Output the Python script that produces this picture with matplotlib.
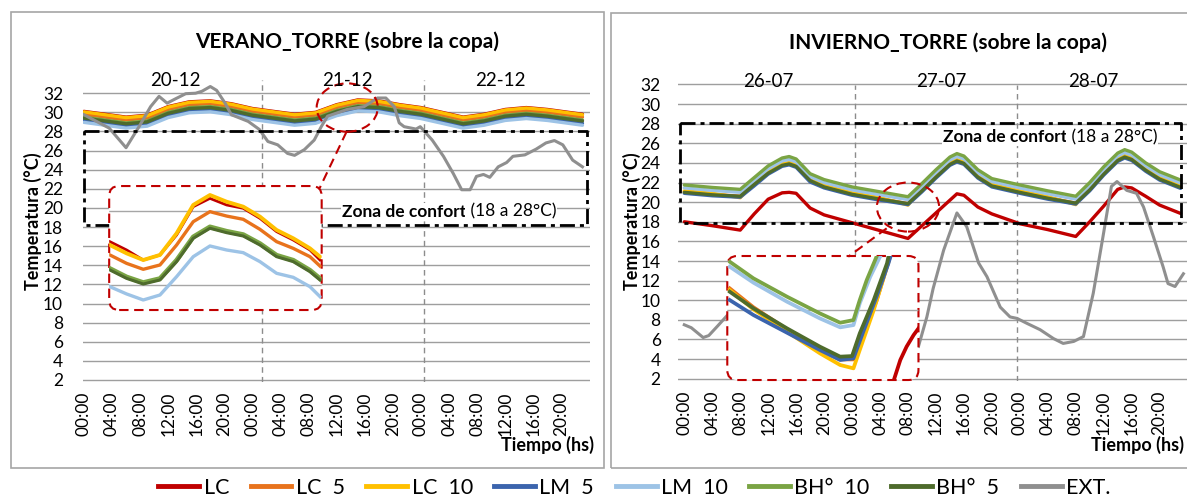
import matplotlib.pyplot as plt
import numpy as np
from matplotlib.patches import FancyBboxPatch, Ellipse, Rectangle
from matplotlib.lines import Line2D

plt.rcParams['font.family'] = ['Lato', 'DejaVu Sans']

NAN = float('nan')

# legend order: LC, LC 5, LC 10, LM 5, LM 10, BH 10, BH 5, EXT
names = ['LC', 'LC  5', 'LC  10', 'LM  5', 'LM  10', 'BH°  10', 'BH°  5', 'EXT.']
colors = ['#C00000', '#E8731C', '#FFC000', '#3B64AD', '#9DC3E6', '#7AA444', '#4E6B2C', '#8F8F8F']

tick_hours = list(range(0, 72, 4))
tick_labels = ['00:00', '04:00', '08:00', '12:00', '16:00', '20:00'] * 3
y_ticks = list(range(2, 33, 2))

# ---------------- VERANO (summer) ----------------
ver_days = ['20-12', '21-12', '22-12']
ver_h = [0, 3, 6, 9, 12, 15, 18, 21, 24, 27, 30, 33, 36, 39, 42, 45, 48, 51, 54, 57, 60, 63, 66, 69, 71]
ver_lc = [30.1, 29.8, 29.5, 29.7, 30.6, 31.1, 31.2, 30.9, 30.4, 30.1, 29.8, 30.0, 30.8, 31.3, 31.2, 30.8,
          30.5, 30.0, 29.5, 29.8, 30.3, 30.5, 30.3, 30.0, 29.8]
ver_lc5 = [29.8, 29.5, 29.2, 29.4, 30.3, 30.8, 30.9, 30.6, 30.1, 29.8, 29.5, 29.7, 30.5, 31.0, 30.9, 30.5,
           30.2, 29.7, 29.2, 29.5, 30.0, 30.2, 30.0, 29.7, 29.5]
ver_lc10 = [30.05, 29.75, 29.45, 29.65, 30.55, 31.05, 31.15, 30.85, 30.35, 30.05, 29.75, 29.95, 30.75, 31.25,
            31.15, 30.75, 30.45, 29.95, 29.45, 29.75, 30.25, 30.45, 30.25, 29.95, 29.75]
ver_lm5 = [29.15, 28.85, 28.55, 28.75, 29.65, 30.15, 30.25, 29.95, 29.45, 29.15, 28.85, 29.05, 29.85, 30.35,
           30.25, 29.85, 29.55, 29.05, 28.55, 28.85, 29.35, 29.55, 29.35, 29.05, 28.85]
ver_lm10 = [28.95, 28.65, 28.35, 28.55, 29.45, 29.95, 30.05, 29.75, 29.25, 28.95, 28.65, 28.85, 29.65, 30.15,
            30.05, 29.65, 29.35, 28.85, 28.35, 28.65, 29.15, 29.35, 29.15, 28.85, 28.65]
ver_bh10 = [29.5, 29.2, 28.9, 29.1, 30.0, 30.5, 30.6, 30.3, 29.8, 29.5, 29.2, 29.4, 30.2, 30.7,
            30.6, 30.2, 29.9, 29.4, 28.9, 29.2, 29.7, 29.9, 29.7, 29.4, 29.2]
ver_bh5 = [29.4, 29.1, 28.8, 29.0, 29.9, 30.4, 30.5, 30.2, 29.7, 29.4, 29.1, 29.3, 30.1, 30.6,
           30.5, 30.1, 29.8, 29.3, 28.8, 29.1, 29.6, 29.8, 29.6, 29.3, 29.1]
ver_ext_h = [0, 3.6, 6.0, 7.85, 9.5, 10.7, 11.85, 13, 14.5, 15.9, 16.8, 18, 18.9, 20.1, 21, 23.4, 25, 26.2,
             27.6, 29, 30, 31.4, 32.8, 33.8, 34.7, 37.5, 39.9, 41.8, 43, 44.2, 44.9, 45.6, 47.3, 47.9, 49.6,
             51.2, 52.6, 53.8, 55, 55.9, 56.9, 57.8, 59, 60.2, 61.1, 62.8, 64.4, 65.8, 67, 68.2, 69.6, 71]
ver_ext = [29.75, 28.35, 26.3, 28.5, 30.6, 31.67, 30.96, 31.4, 31.95, 32.0, 32.2, 32.7, 32.3, 30.97, 29.75,
           29.05, 28.2, 26.95, 26.6, 25.7, 25.5, 26.1, 27.1, 28.5, 29.6, 30.3, 30.6, 31.5, 31.5, 30.6, 28.9,
           28.5, 28.25, 28.5, 27.1, 25.4, 23.6, 21.9, 21.9, 23.3, 23.5, 23.2, 24.3, 24.75, 25.4, 25.55, 26.15,
           26.8, 27.05, 26.6, 25.0, 24.3]

# magnified detail box (values as they appear on the panel)
ver_zoom_h = [3.7, 6.08, 8.45, 10.83, 13.2, 15.57, 17.95, 20.32, 22.69, 25.07, 27.44, 29.81, 32.19, 33.62]
ver_zoom_lc = [16.47, 15.6, 14.55, 15.08, 17.17, 20.13, 21.0, 20.31, 19.96, 18.91, 17.52, 16.64, 15.6, 14.55]
ver_zoom_lc5 = [15.08, 14.2, 13.58, 14.03, 16.12, 18.56, 19.61, 19.15, 18.81, 17.76, 16.47, 15.77, 14.9, 13.92]
ver_zoom_lc10 = [16.12, 15.25, 14.55, 15.08, 17.34, 20.31, 21.35, 20.65, 20.13, 19.09, 17.69, 16.82, 15.77, 14.9]
ver_zoom_lm10 = [11.76, 11.0, 10.37, 10.89, 12.81, 14.9, 16.02, 15.6, 15.32, 14.38, 13.16, 12.74, 11.76, 10.72]
ver_zoom_bh10 = [13.66, 12.78, 12.19, 12.61, 14.53, 16.97, 18.02, 17.56, 17.21, 16.27, 15.05, 14.53, 13.48, 12.61]
ver_zoom_bh5 = [13.51, 12.63, 12.04, 12.46, 14.38, 16.82, 17.87, 17.41, 17.06, 16.12, 14.9, 14.38, 13.33, 12.46]

# ---------------- INVIERNO (winter) ----------------
inv_days = ['26-07', '27-07', '28-07']
inv_h = [0, 4, 8, 10, 12, 14, 15, 16, 18, 20, 24, 28, 32, 34, 36, 38, 39, 40, 42, 44, 48, 52, 56, 58, 60,
         62, 63, 64, 66, 68, 71]
inv_lc = [18.0, 17.6, 17.15, 18.8, 20.3, 20.95, 21.0, 20.9, 19.4, 18.7, 17.9, 17.1, 16.3, 17.6, 18.9, 20.2,
          20.85, 20.7, 19.5, 18.8, 17.8, 17.2, 16.5, 18.0, 19.6, 21.3, 21.55, 21.45, 20.6, 19.7, 18.85]
inv_lc5 = [21.05, 20.8, 20.6, 21.8, 23.0, 23.8, 23.95, 23.7, 22.2, 21.6, 20.85, 20.35, 19.85, 21.2, 22.6, 23.9,
           24.25, 24.0, 22.6, 21.7, 21.05, 20.45, 19.9, 21.3, 22.9, 24.3, 24.65, 24.4, 23.3, 22.4, 21.55]
inv_lc10 = [21.15, 20.9, 20.45, 21.9, 23.1, 23.9, 24.05, 23.8, 22.3, 21.7, 20.95, 20.45, 19.7, 21.3, 22.7, 24.0,
            24.35, 24.1, 22.7, 21.8, 21.15, 20.55, 19.75, 21.4, 23.0, 24.4, 24.75, 24.5, 23.4, 22.5, 21.65]
inv_lm5 = [20.9, 20.65, 20.5, 21.65, 22.85, 23.65, 23.8, 23.55, 22.05, 21.45, 20.7, 20.2, 19.75, 21.05, 22.45,
           23.75, 24.1, 23.85, 22.45, 21.55, 20.9, 20.3, 19.8, 21.15, 22.75, 24.15, 24.5, 24.25, 23.15, 22.25, 21.4]
inv_lm10 = [21.45, 21.2, 21.0, 22.2, 23.4, 24.2, 24.35, 24.1, 22.6, 22.0, 21.25, 20.75, 20.25, 21.6, 23.0, 24.3,
            24.65, 24.4, 23.0, 22.1, 21.45, 20.85, 20.3, 21.7, 23.3, 24.7, 25.05, 24.8, 23.7, 22.8, 21.95]
inv_bh10 = [21.75, 21.5, 21.3, 22.5, 23.7, 24.5, 24.65, 24.4, 22.9, 22.3, 21.55, 21.05, 20.55, 21.9, 23.3, 24.6,
            24.95, 24.7, 23.3, 22.4, 21.75, 21.15, 20.6, 22.0, 23.6, 25.0, 25.35, 25.1, 24.0, 23.1, 22.25]
inv_bh5 = [21.0, 20.75, 20.6, 21.8, 22.95, 23.75, 23.9, 23.65, 22.2, 21.55, 20.8, 20.3, 19.85, 21.15, 22.55,
           23.85, 24.2, 23.95, 22.55, 21.65, 21.0, 20.4, 19.9, 21.25, 22.85, 24.25, 24.6, 24.35, 23.25, 22.35, 21.5]
inv_ext_h = [0, 1, 2.7, 3.5, 4.8, 6.2, 20, 33.5, 34.7, 35.6, 37.1, 39.0, 40.4, 42.1, 43.3, 45.2, 46.6, 47.6,
             49.0, 50.9, 52.8, 54.2, 55.7, 57.1, 58.5, 59.9, 61.1, 61.9, 63.3, 64.7, 65.7, 67.1, 68.5, 69.2,
             70.2, 71.4]
inv_ext = [7.5, 7.2, 6.2, 6.4, 7.4, 8.5, NAN, 5.3, 8.3, 11.2, 15.1, 18.9, 17.5, 13.8, 12.4, 9.3, 8.3, 8.15,
           7.65, 7.0, 6.1, 5.6, 5.8, 6.3, 10.7, 16.5, 21.6, 22.1, 21.2, 20.9, 19.5, 16.5, 13.4, 11.7, 11.4, 12.7]

inv_zoom_lc_h = [29.9, 30.9, 31.8, 32.8, 33.5]
inv_zoom_lc = [1.7, 3.91, 5.27, 6.45, 7.13]
inv_zoom_lc5_h = [6.5, 9.9, 14.7, 19.4, 22.3, 24.2, 25.6, 27.5, 29.2, 29.7]
inv_zoom_lc5 = [11.21, 9.28, 7.03, 4.99, 3.97, 3.97, 6.62, 9.96, 13.93, 15.1]
inv_zoom_lc10_h = [6.5, 9.9, 14.7, 19.4, 22.3, 24.2, 25.1, 27.1, 29.0, 29.7]
inv_zoom_lc10 = [11.04, 9.07, 6.79, 4.59, 3.4, 3.06, 4.93, 9.0, 13.42, 15.1]
inv_zoom_lm5_h = [6.5, 9.9, 14.7, 19.4, 22.3, 24.2, 25.6, 27.5, 29.2, 29.7]
inv_zoom_lm5 = [10.02, 8.49, 6.69, 4.93, 3.91, 4.08, 6.79, 10.36, 13.76, 14.95]
inv_zoom_lm10_h = [6.5, 9.9, 14.7, 19.4, 22.3, 24.2, 25.1, 26.6, 28.0, 28.5]
inv_zoom_lm10 = [13.42, 11.79, 9.85, 8.15, 7.24, 7.47, 9.68, 12.4, 14.44, 15.1]
inv_zoom_bh10_h = [6.5, 9.9, 14.7, 19.4, 22.3, 24.2, 25.1, 26.1, 27.5, 27.9]
inv_zoom_bh10 = [13.93, 12.23, 10.36, 8.66, 7.71, 7.98, 10.02, 12.06, 14.44, 15.2]
inv_zoom_bh5_h = [6.5, 9.9, 14.7, 19.4, 22.3, 24.0, 25.1, 27.1, 29.0, 29.4]
inv_zoom_bh5 = [10.87, 9.17, 7.13, 5.27, 4.25, 4.31, 6.62, 10.02, 13.76, 15.1]

W, H = 1187, 499
RED = '#C00000'


def fx(px):
    return px / W


def fy(py):
    return 1 - py / H


fig = plt.figure(figsize=(W / 100, H / 100), dpi=100)

# outer frames of both charts
fig.add_artist(Rectangle((fx(10.5), fy(468)), (603.5 - 10.5) / W, (468 - 12) / H, transform=fig.transFigure,
                         fill=False, ec='#A6A6A6', lw=1.2))
fig.add_artist(Rectangle((fx(610.5), fy(468)), (1200 - 610.5) / W, (468 - 12.5) / H, transform=fig.transFigure,
                         fill=False, ec='#A6A6A6', lw=1.2))

ax1 = fig.add_axes([fx(82.5), fy(381.9), 507 / W, 307.8 / H])
ax2 = fig.add_axes([fx(678), fy(380.7), 508.9 / W, 315.9 / H])


def base_style(ax, xlim, ypad):
    ax.set_xlim(*xlim)
    ax.set_ylim(1.8, 34)
    ax.set_yticks(y_ticks)
    ax.set_xticks(tick_hours)
    ax.set_xticklabels(tick_labels, rotation=90, fontsize=12.5)
    ax.tick_params(axis='y', length=0, pad=ypad, labelsize=12.5)
    ax.tick_params(axis='x', length=0, pad=7)
    for s in ax.spines.values():
        s.set_visible(False)
    ax.grid(axis='y', color='#9E9E9E', lw=1.0)
    ax.set_axisbelow(True)
    ax.patch.set_alpha(0)


base_style(ax1, (-0.2, 72.0), 14)
base_style(ax2, (-0.9, 71.9), 12.5)

ver_series = [ver_lc, ver_lc5, ver_lc10, ver_lm5, ver_lm10, ver_bh10, ver_bh5]
inv_series = [inv_lc, inv_lc5, inv_lc10, inv_lm5, inv_lm10, inv_bh10, inv_bh5]
for vals, c in zip(ver_series, colors):
    ax1.plot(ver_h, vals, color=c, lw=2.4, zorder=2, solid_capstyle='round')
ax1.plot(ver_ext_h, ver_ext, color=colors[7], lw=2.2, zorder=2)
for vals, c in zip(inv_series, colors):
    ax2.plot(inv_h, vals, color=c, lw=2.4, zorder=2, solid_capstyle='round')
ax2.plot(inv_ext_h, inv_ext, color=colors[7], lw=2.2, zorder=2)

# day dividers and day labels
dash_dot = (0, (5.4, 1.8, 1.45, 1.8))
for x in (25.4, 48.5):
    ax1.plot([x, x], [1.8, 33.4], color='#8C8C8C', lw=1.0, ls=(0, (4, 3)), zorder=1.5)
for x in (24.4, 47.6):
    ax2.plot([x, x], [1.8, 31.9], color='#8C8C8C', lw=1.0, ls=(0, (4, 3)), zorder=1.5)
for x, d in zip((12.96, 37.5, 59.3), ver_days):
    ax1.text(x, 33.3, d, ha='center', va='center', fontsize=13.5, zorder=6)
for x, d in zip((12.0, 36.7, 58.5), inv_days):
    ax2.text(x, 32.3, d, ha='center', va='center', fontsize=13.5, zorder=6)

# comfort zone boxes
ax1.plot([0.0, 71.7, 71.7, 0.0, 0.0], [28.05, 28.05, 18.2, 18.2, 28.05], color='black', lw=2.0,
         ls=dash_dot, zorder=2.5)
ax2.plot([-0.6, 71.1, 71.1, -0.6, -0.6], [28.1, 28.1, 17.9, 17.9, 28.1], color='black', lw=2.0,
         ls=dash_dot, zorder=2.5, clip_on=False)


def comfort_label(ax, x, y):
    t = ax.text(x, y, 'Zona de confort', fontsize=12.5, fontweight='bold', ha='left', va='center', zorder=6,
                bbox=dict(fc='white', ec='none', pad=0.5))
    ax.annotate(' (18 a 28°C)', xy=(1, 0.5), xycoords=t, ha='left', va='center', fontsize=12.5, zorder=6,
                bbox=dict(fc='white', ec='none', pad=0.5))


comfort_label(ax1, 36.7, 19.6)
comfort_label(ax2, 37.0, 26.6)


# magnified detail boxes
def detail_box(ax, x0, y0, x1, y1, rsize, aspect):
    p = FancyBboxPatch((x0, y0), x1 - x0, y1 - y0, boxstyle='round,pad=0,rounding_size=%g' % rsize,
                       mutation_aspect=aspect, fc='white', ec=RED, lw=1.5, ls=(0, (4.5, 2.7)), zorder=3,
                       clip_on=False)
    ax.add_patch(p)
    return p


p1 = detail_box(ax1, 3.6, 9.32, 33.86, 22.29, 1.42, 0.734)
for gy in (19.7, 11.9):
    ln, = ax1.plot([3.6, 33.86], [gy, gy], color='#A6A6A6', lw=1.0, zorder=3.5)
    ln.set_clip_path(p1)
ver_zoom = [(ver_zoom_lc, 0, 2.0), (ver_zoom_lc5, 1, 2.4), (ver_zoom_lc10, 2, 2.8), (ver_zoom_lm10, 4, 2.4),
            (ver_zoom_bh10, 5, 3.4), (ver_zoom_bh5, 6, 2.2)]
for vals, ci, lw in ver_zoom:
    ln, = ax1.plot(ver_zoom_h, vals, color=colors[ci], lw=lw, zorder=4)
    ln.set_clip_path(p1)
ax1.add_patch(Ellipse((37.5, 30.5), 8.7, 5.06, fill=False, ec=RED, lw=1.5, ls=(0, (4.5, 2.7)), zorder=5))
ax1.plot([37.4, 33.56], [27.97, 22.05], color=RED, lw=1.5, ls=(0, (4.5, 2.7)), zorder=5)

p2 = detail_box(ax2, 6.15, 1.87, 33.5, 14.51, 1.43, 0.713)
ln, = ax2.plot([6.15, 33.5], [9.0, 9.0], color='#A6A6A6', lw=1.0, zorder=3.5)
ln.set_clip_path(p2)
inv_zoom = [(inv_zoom_lc_h, inv_zoom_lc, 0), (inv_zoom_lc5_h, inv_zoom_lc5, 1),
            (inv_zoom_lc10_h, inv_zoom_lc10, 2), (inv_zoom_lm5_h, inv_zoom_lm5, 3),
            (inv_zoom_lm10_h, inv_zoom_lm10, 4), (inv_zoom_bh10_h, inv_zoom_bh10, 5),
            (inv_zoom_bh5_h, inv_zoom_bh5, 6)]
for hh, vals, ci in inv_zoom:
    ln, = ax2.plot(hh, vals, color=colors[ci], lw=2.7, zorder=4)
    ln.set_clip_path(p2)
ax2.add_patch(Ellipse((32.0, 19.5), 8.9, 5.0, fill=False, ec=RED, lw=1.5, ls=(0, (4.5, 2.7)), zorder=5))
ax2.plot([28.95, 23.46], [17.33, 14.44], color=RED, lw=1.5, ls=(0, (4.5, 2.7)), zorder=5)

# titles and axis labels
fig.text(fx(347), fy(42), 'VERANO_TORRE (sobre la copa)', ha='center', va='center', fontsize=15,
         fontweight='bold')
fig.text(fx(948), fy(43), 'INVIERNO_TORRE (sobre la copa)', ha='center', va='center', fontsize=15,
         fontweight='bold')
for x in (32.5, 632):
    fig.text(fx(x), fy(221.5), 'Temperatura (°C)', rotation=90, ha='center', va='center', fontsize=13,
             fontweight='bold')
fig.text(fx(593.7), fy(445), 'Tiempo (hs)', ha='right', va='center', fontsize=13, fontweight='bold')
fig.text(fx(1184), fy(445), 'Tiempo (hs)', ha='right', va='center', fontsize=13, fontweight='bold')

handles = [Line2D([0], [0], color=c, lw=3.5) for c in colors]
fig.legend(handles, names, loc='center', bbox_to_anchor=(fx(634.5), fy(488)), ncol=8, frameon=False,
           fontsize=15.5, handlelength=1.9, handletextpad=0.2, columnspacing=1.0, borderaxespad=0)

fig.savefig('out.png', dpi=100)
